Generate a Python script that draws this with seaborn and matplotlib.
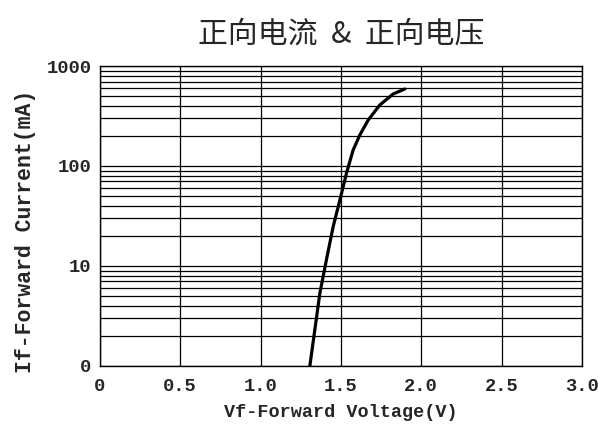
import numpy as np
import pandas as pd
import seaborn as sns
import matplotlib.pyplot as plt
from matplotlib.ticker import FixedLocator, LogLocator, NullFormatter

# Curve
voltage = [1.307, 1.369, 1.41, 1.452, 1.494, 1.535, 1.576, 1.618, 1.67, 1.742, 1.825, 1.898]
current = [1.0, 5.3, 11.5, 24.7, 45.7, 84.5, 144, 204, 288, 407, 525, 589]

x_ticks = [0, 0.5, 1.0, 1.5, 2.0, 2.5, 3.0]
x_labels = ['0', '0.5', '1.0', '1.5', '2.0', '2.5', '3.0']
y_ticks = [1, 10, 100, 1000]
y_labels = ['0', '10', '100', '1000']

df = pd.DataFrame({'Vf': voltage, 'If': current})

sns.set_style('white')
plt.rcParams['font.family'] = ['Noto Sans CJK SC', 'DejaVu Sans']

fig, ax = plt.subplots(figsize=(5.98, 4.26), dpi=100)
fig.subplots_adjust(left=0.167, right=0.973, top=0.845, bottom=0.141)

sns.lineplot(data=df, x='Vf', y='If', ax=ax, color='black', linewidth=2.3)

ax.set_yscale('log')
ax.set_xlim(0, 3.0)
ax.set_ylim(1, 1000)

ax.xaxis.set_major_locator(FixedLocator(x_ticks))
ax.set_xticklabels(x_labels)
ax.yaxis.set_major_locator(FixedLocator(y_ticks))
ax.set_yticklabels(y_labels)
ax.yaxis.set_minor_locator(LogLocator(base=10, subs=np.arange(2, 10)))
ax.yaxis.set_minor_formatter(NullFormatter())

ax.grid(True, which='major', axis='both', color='black', linewidth=0.9)
ax.grid(True, which='minor', axis='y', color='black', linewidth=0.9)
ax.tick_params(axis='x', which='both', length=0, labelsize=13.5, pad=9)
ax.tick_params(axis='y', which='both', length=0, labelsize=13.5, pad=6)

mono = ['Liberation Mono', 'DejaVu Sans Mono']
for lab in ax.get_xticklabels() + ax.get_yticklabels():
    lab.set_family(mono)
    lab.set_fontweight('bold')

for s in ax.spines.values():
    s.set_color('black')
    s.set_linewidth(1.0)

ax.set_xlabel('Vf-Forward Voltage(V)', family=mono, fontsize=13.3, fontweight='bold', labelpad=6)
ax.set_ylabel('If-Forward Current(mA)', family=mono, fontsize=15.5, fontweight='bold')
ax.yaxis.set_label_coords(-0.133, 0.45)
ax.set_title('正向电流  &  正向电压', fontsize=21.5, pad=17)

fig.savefig('out.png', dpi=100)
